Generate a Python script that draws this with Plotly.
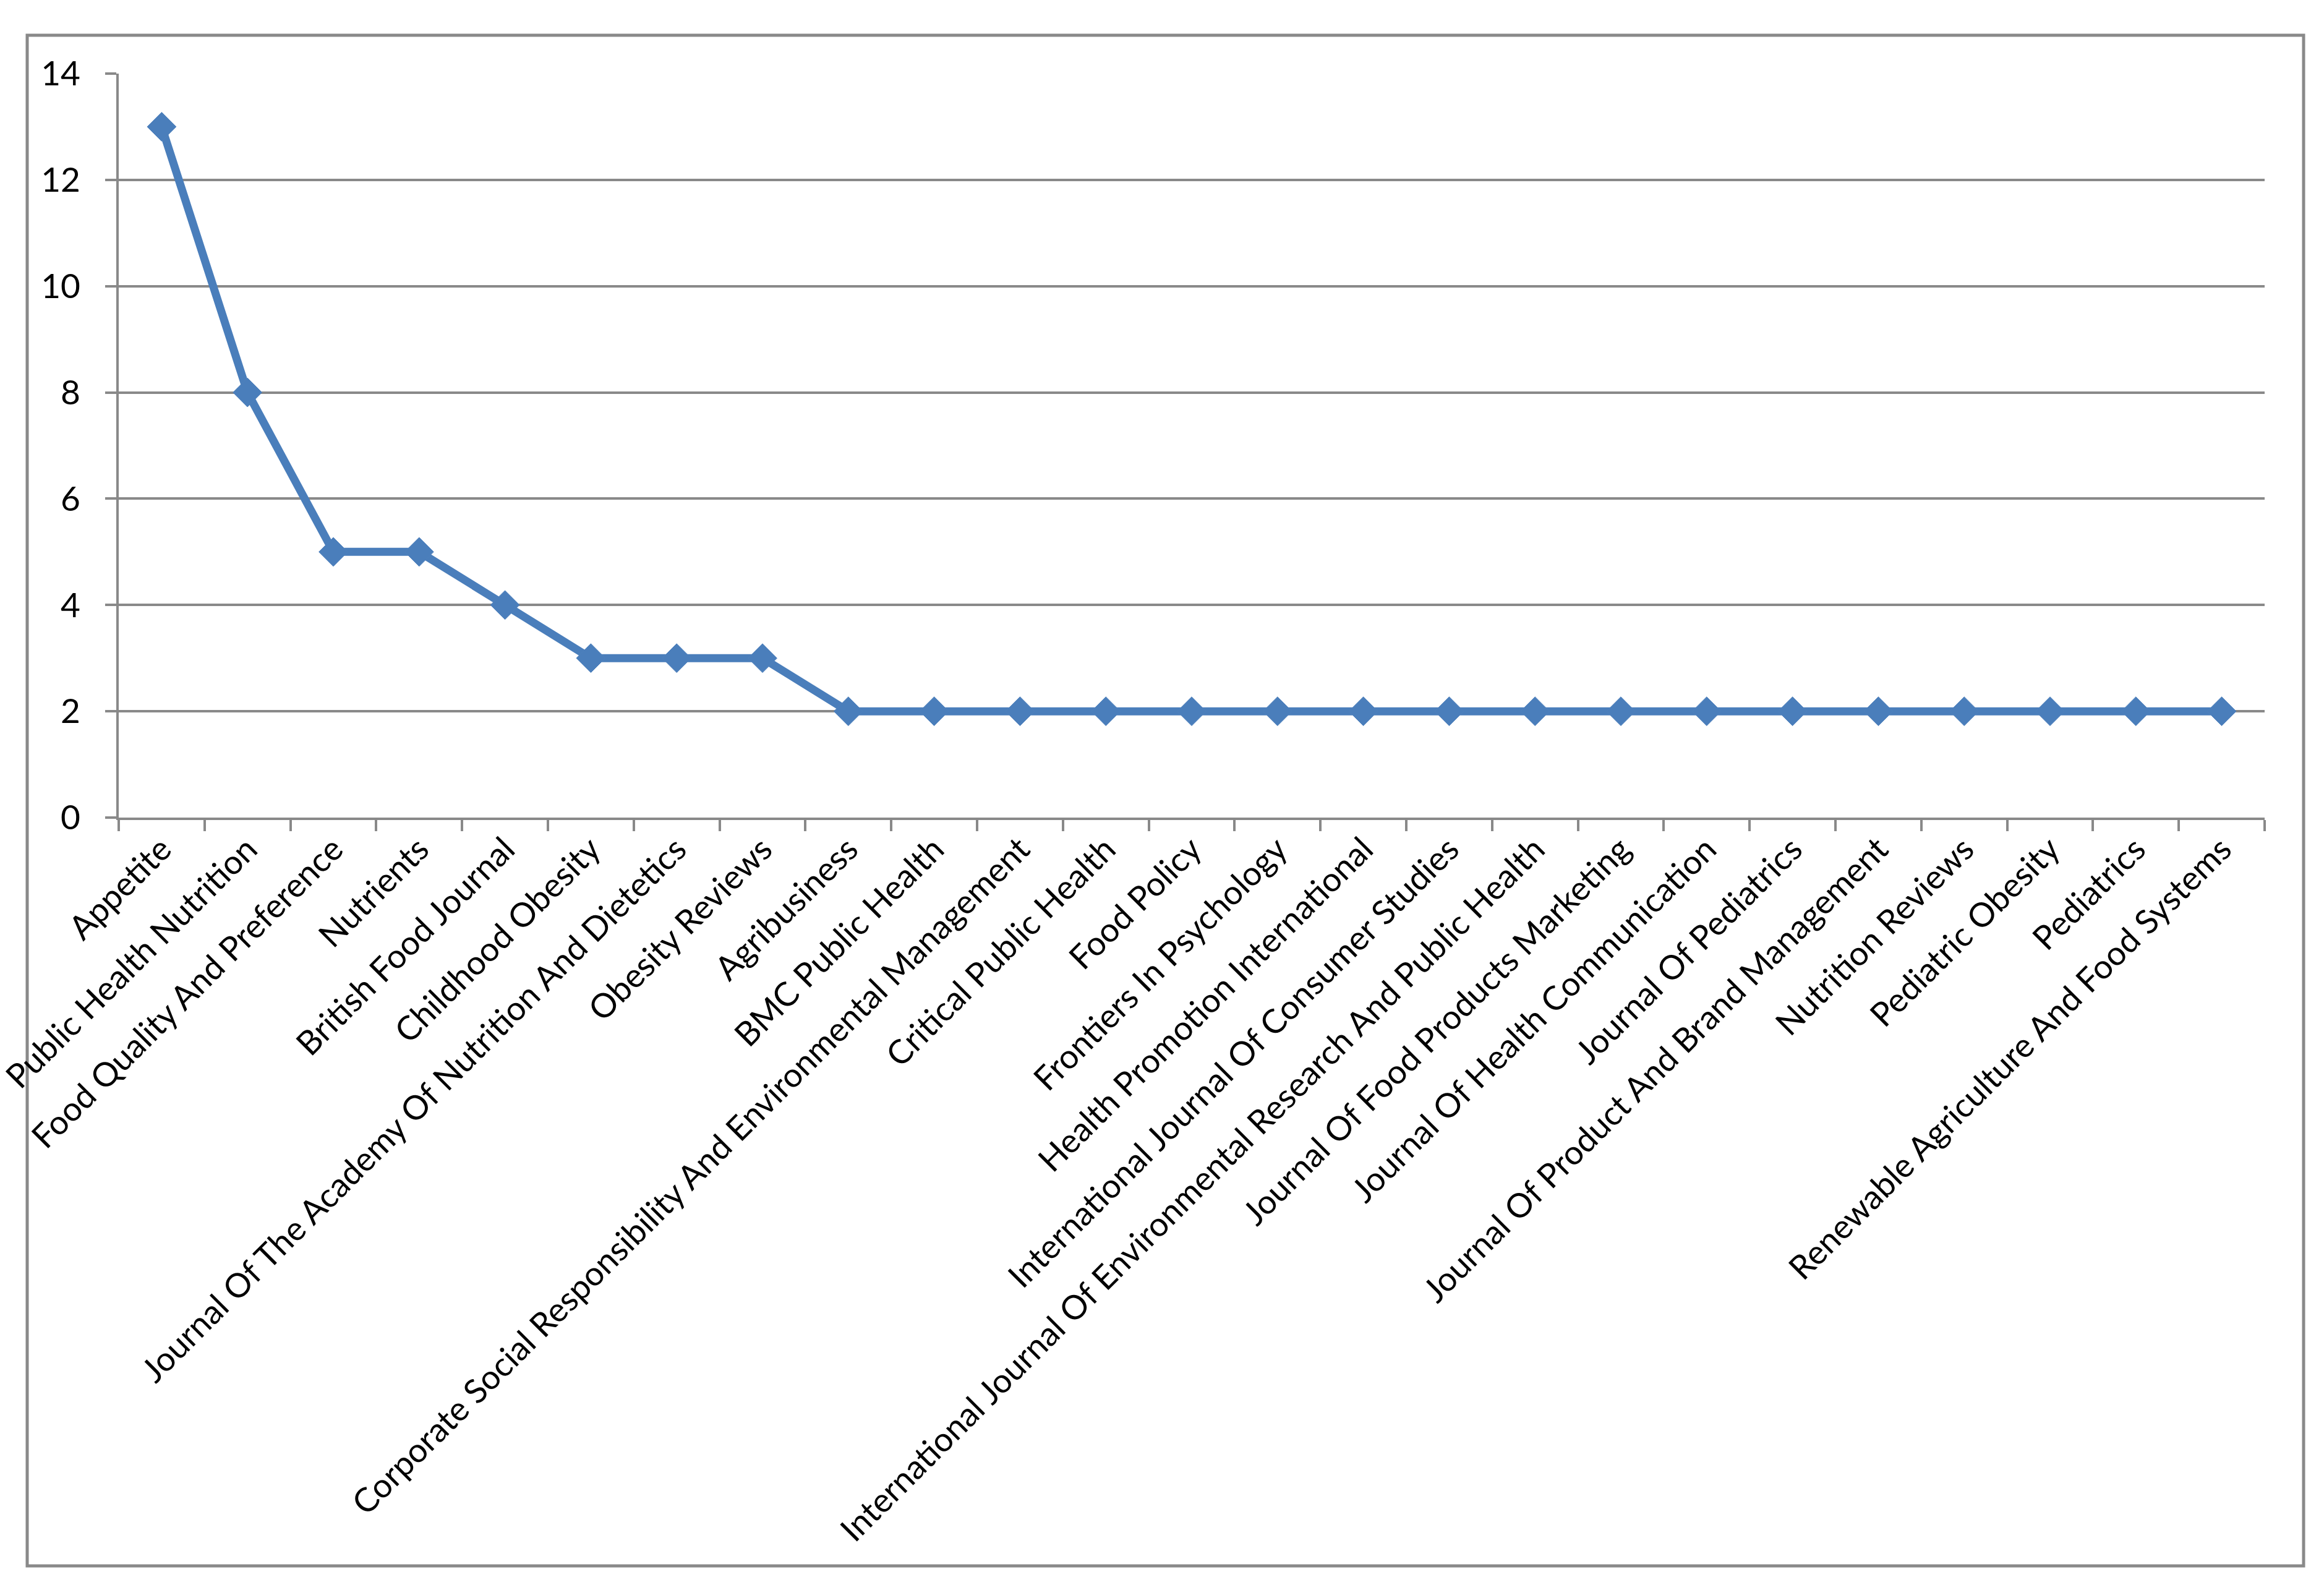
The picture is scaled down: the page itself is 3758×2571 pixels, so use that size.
import plotly.graph_objects as go

journals = [
    "Appetite",
    "Public Health Nutrition",
    "Food Quality And Preference",
    "Nutrients",
    "British Food Journal",
    "Childhood Obesity",
    "Journal Of The Academy Of Nutrition And Dietetics",
    "Obesity Reviews",
    "Agribusiness",
    "BMC Public Health",
    "Corporate Social Responsibility And Environmental Management",
    "Critical Public Health",
    "Food Policy",
    "Frontiers In Psychology",
    "Health Promotion International",
    "International Journal Of Consumer Studies",
    "International Journal Of Environmental Research And Public Health",
    "Journal Of Food Products Marketing",
    "Journal Of Health Communication",
    "Journal Of Pediatrics",
    "Journal Of Product And Brand Management",
    "Nutrition Reviews",
    "Pediatric Obesity",
    "Pediatrics",
    "Renewable Agriculture And Food Systems",
]
counts = [13, 8, 5, 5, 4, 3, 3, 3, 2, 2, 2, 2, 2, 2, 2, 2, 2, 2, 2, 2, 2, 2, 2, 2, 2]
y_ticks = [0, 2, 4, 6, 8, 10, 12, 14]

OFF = 8  # default page body margin
W, H = 3758 - OFF, 2571 - OFF
L, R, T, B = 192 - OFF, 3662 - OFF, 119 - OFF, 1322 - OFF
GRAY = "#898989"
BLUE = "#4A7EBB"
FONT = "Lato"

fig = go.Figure()
fig.add_trace(go.Scatter(
    x=journals, y=counts, mode="lines+markers",
    line=dict(color=BLUE, width=13),
    marker=dict(symbol="diamond", size=36, color=BLUE, line=dict(color="#4F81BD", width=1)),
    showlegend=False, hoverinfo="x+y",
))

pw, ph = R - L, B - T
fig.update_layout(
    width=W, height=H,
    margin=dict(l=L, r=W - R, t=T, b=H - B, autoexpand=False),
    paper_bgcolor="white", plot_bgcolor="white",
    font=dict(family=FONT, color="black", size=53),
    xaxis=dict(
        type="category", tickangle=-45, tickson="boundaries",
        range=[-0.5, len(journals) - 0.5], autorange=False,
        ticks="outside", ticklen=18, tickwidth=4, tickcolor=GRAY,
        showline=True, linecolor=GRAY, linewidth=4,
        showgrid=False, tickfont=dict(size=54, family=FONT, color="black"),
        ticklabelstandoff=-6,
    ),
    yaxis=dict(
        range=[0, 14], autorange=False, tickvals=y_ticks, ticktext=[str(v) for v in y_ticks],
        ticks="outside", ticklen=18, tickwidth=4, tickcolor=GRAY,
        showline=True, linecolor=GRAY, linewidth=4,
        showgrid=True, gridcolor=GRAY, gridwidth=4, zeroline=False,
        tickfont=dict(size=55, family=FONT, color="black"),
        ticklabelstandoff=29,
    ),
    shapes=[dict(
        type="rect", xref="paper", yref="paper",
        x0=(44 - OFF - L) / pw, x1=(3725 - OFF - L) / pw,
        y0=(B - (2532 - OFF)) / ph, y1=(B - (57 - OFF)) / ph,
        line=dict(color=GRAY, width=5), fillcolor="rgba(0,0,0,0)", layer="below",
    )],
)

fig.write_html("out.html")
